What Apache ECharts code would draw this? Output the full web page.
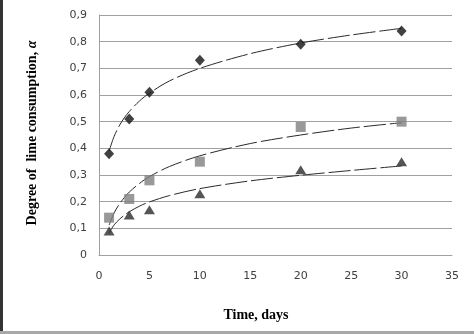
<!DOCTYPE html>
<html><head><meta charset="utf-8">
<script src="https://cdn.jsdelivr.net/npm/echarts@6/dist/echarts.min.js"></script>
<style>html,body{margin:0;padding:0;background:#fff}#c{width:474px;height:334px}</style>
</head><body><div id="c"></div>
<script>
const days = [1, 3, 5, 10, 20, 30];
const diamondVals = [0.38, 0.51, 0.61, 0.73, 0.79, 0.84];
const squareVals = [0.14, 0.21, 0.28, 0.35, 0.48, 0.50];
const triangleVals = [0.09, 0.15, 0.17, 0.23, 0.32, 0.35];
const trendDays = [1, 1.5, 2, 2.5, 3, 4, 5, 7, 10, 15, 20, 25, 30];
const diamondTrend = [0.39, 0.445, 0.484, 0.514, 0.538, 0.577, 0.607, 0.653, 0.70, 0.755, 0.795, 0.825, 0.85];
const squareTrend = [0.112, 0.158, 0.19, 0.215, 0.236, 0.268, 0.294, 0.332, 0.372, 0.418, 0.45, 0.476, 0.496];
const triangleTrend = [0.083, 0.113, 0.133, 0.149, 0.162, 0.183, 0.199, 0.223, 0.249, 0.278, 0.299, 0.317, 0.334];
const xTicks = [0, 5, 10, 15, 20, 25, 30, 35];
const yTicks = [0, 0.1, 0.2, 0.3, 0.4, 0.5, 0.6, 0.7, 0.8, 0.9];

const pair = (xs, ys) => xs.map((x, i) => [x, ys[i]]);
const trendStyle = {color: '#2a2a2a', width: 1, type: [22, 4]};
const trend = (d) => ({type: 'line', data: pair(trendDays, d), smooth: 0.3, showSymbol: false, symbol: 'none',
  lineStyle: trendStyle, silent: true, z: 2});
const chart = echarts.init(document.getElementById('c'));
chart.setOption({
  animation: false,
  backgroundColor: '#fff',
  grid: {left: 99, right: 22, top: 15, bottom: 79},
  xAxis: {type: 'value', min: 0, max: 35, interval: 5,
    axisLine: {show: true, lineStyle: {color: '#a0a0a0', width: 1}},
    axisTick: {show: false}, splitLine: {show: false},
    axisLabel: {fontFamily: 'DejaVu Sans', fontSize: 11, color: '#404040', margin: 16,
      formatter: v => xTicks.includes(v) ? String(v) : ''}},
  yAxis: {type: 'value', min: 0, max: 0.9, interval: 0.1,
    axisLine: {show: true, lineStyle: {color: '#a0a0a0', width: 1}},
    axisTick: {show: false},
    splitLine: {show: true, lineStyle: {color: '#a0a0a0', width: 1}},
    axisLabel: {fontFamily: 'DejaVu Sans', fontSize: 11, color: '#404040', margin: 12,
      formatter: v => { const t = yTicks.find(k => Math.abs(k - v) < 1e-6); return t === undefined ? '' : (t === 0 ? '0' : t.toFixed(1).replace('.', ',')); }}},
  graphic: [
    {type: 'rect', shape: {x: 0, y: 0, width: 3, height: 334}, style: {fill: '#333'}},
    {type: 'rect', shape: {x: 0, y: 331, width: 474, height: 3}, style: {fill: '#a8a8a8'}},
    {type: 'text', x: 256, y: 315, style: {text: 'Time, days', fontFamily: 'Liberation Serif', fontWeight: 'bold',
      fontSize: 14, fill: '#000', textAlign: 'center', textVerticalAlign: 'middle'}},
    {type: 'text', x: 32, y: 133, rotation: Math.PI / 2, style: {
      text: '{b|Degree of  lime consumption, }{i|α}', textAlign: 'center', textVerticalAlign: 'middle',
      rich: {b: {fontFamily: 'Liberation Serif', fontWeight: 'bold', fontSize: 14, fill: '#000'},
             i: {fontFamily: 'Liberation Serif', fontWeight: 'bold', fontStyle: 'italic', fontSize: 14, fill: '#000'}}}}
  ],
  series: [
    trend(diamondTrend), trend(squareTrend), trend(triangleTrend),
    {type: 'scatter', data: pair(days, diamondVals), symbol: 'diamond', symbolSize: [10, 11],
      itemStyle: {color: '#111'}, z: 3},
    {type: 'scatter', data: pair(days, squareVals), symbol: 'rect', symbolSize: 10,
      itemStyle: {color: '#7f7f7f'}, z: 3},
    {type: 'scatter', data: pair(days, triangleVals), symbol: 'triangle', symbolSize: [11, 9],
      itemStyle: {color: '#2b2b2b'}, z: 3}
  ]
});
</script></body></html>
